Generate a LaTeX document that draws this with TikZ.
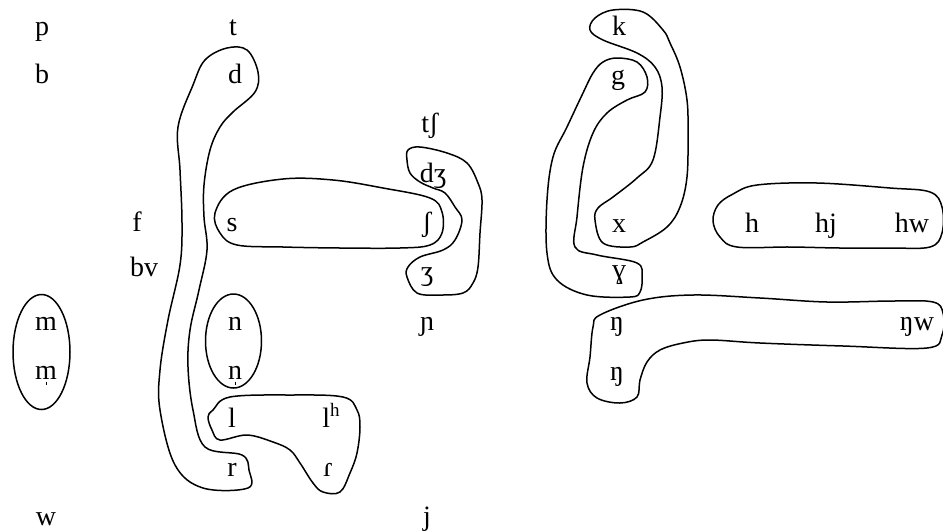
\documentclass[tikz,border=0pt]{standalone}
\usepackage{fontspec}
\setmainfont{Liberation Serif}
\begin{document}
\begin{tikzpicture}[x=1pt,y=-1pt,
  lbl/.style={font=\fontsize{28}{30}\selectfont, anchor=base, inner sep=0pt},
  blob/.style={draw=black, line width=1.5pt, line join=round},
  tick/.style={draw=black, line width=0.9pt}]
\useasboundingbox (0,0) rectangle (943,531);
\clip (0,0) rectangle (943,531);
% labels
\node[lbl] (p) at (42,35) {p};
\node[lbl] (t) at (233,35) {t};
\node[lbl] (b) at (42,83) {b};
\node[lbl] (d) at (235,83) {d};
\node[lbl] (tsh) at (430,132) {tʃ};
\node[lbl] (dzh) at (433,182) {dʒ};
\node[lbl] (f) at (137,231) {f};
\node[lbl] (s) at (232,231) {s};
\node[lbl] (sh) at (427,231) {ʃ};
\node[lbl] (x) at (619,232) {x};
\node[lbl] (h) at (752,232) {h};
\node[lbl] (hj) at (826,232) {hj};
\node[lbl] (hw) at (912,232) {hw};
\node[lbl] (bv) at (144,276) {bv};
\node[lbl] (zh) at (427,280) {ʒ};
\node[lbl] (gam) at (619,278) {ɣ};
\node[lbl] (m) at (46,330) {m};
\node[lbl] (n) at (235,330) {n};
\node[lbl] (nj) at (427,330) {ɲ};
\node[lbl] (ng) at (617,330) {ŋ};
\node[lbl] (ngw) at (917,330) {ŋw};
\node[lbl] (mv) at (46,379) {m};
\node[lbl] (nv) at (235,379) {n};
\node[lbl] (ngv) at (617,380) {ŋ};
\node[lbl] (l) at (232,427) {l};
\node[lbl] (lh) at (331,427) {l{\fontsize{19}{19}\selectfont\raisebox{11pt}{h}}};
\node[lbl] (r) at (232,476) {r};
\node[lbl] (tap) at (328,476) {ɾ};
\node[lbl] (w) at (46,525) {w};
\node[lbl] (j) at (427,525) {j};
\node[lbl] (k) at (619,35) {k};
\node[lbl] (g) at (618,84) {g};
% voiceless marks
\draw[tick] (mv.base) ++(0,2.5) -- ++(0,3.5);
\draw[tick] (nv.base) ++(0,2.5) -- ++(0,3.5);
% groupings
\draw[blob] (41.5,352) ellipse [x radius=28.5, y radius=57.5];
\draw[blob] (233.5,341) ellipse [x radius=28, y radius=47];
% d - r
\draw[blob] plot[smooth cycle, tension=0.6] coordinates {(227,48) (247,50) (258,72) (255,92) (233,112) (220,127) (210,150) (204,185) (204,217) (207,250) (199,290) (190,330) (188,367) (193,410) (205,447) (242,455) (249,470) (248,488) (203,488) (175,465) (160,410) (160,370) (168,320) (180,265) (182,223) (180,170) (178,127) (193,85) (205,60)};
% s - sh
\draw[blob] plot[smooth cycle, tension=0.6] coordinates {(215,213) (233,190) (283,179) (333,180) (383,188) (430,198) (442,212) (442,233) (430,245) (400,248) (340,248) (283,247) (237,245) (220,233)};
% dzh - zh
\draw[blob] plot[smooth cycle, tension=0.6] coordinates {(408,150) (420,147) (447,153) (467,163) (478,183) (482,200) (480,233) (478,267) (473,283) (463,293) (440,295) (417,293) (407,277) (408,267) (420,257) (443,250) (455,240) (462,220) (455,207) (445,193) (433,188) (420,182) (410,173) (407,160)};
% l - lh - tap
\draw[blob] plot[smooth cycle, tension=0.6] coordinates {(230,397) (290,395) (343,397) (357,410) (360,427) (357,453) (350,473) (340,492) (323,492) (313,483) (300,463) (290,450) (273,442) (247,435) (220,440) (212,430) (208,417) (213,410)};
% k - x
\draw[blob] plot[smooth cycle, tension=0.6] coordinates {(595,18) (613,10) (643,12) (663,30) (670,43) (680,67) (687,100) (688,133) (687,177) (680,207) (667,227) (643,242) (630,247) (603,243) (595,220) (598,208) (613,197) (637,178) (653,160) (660,117) (662,87) (655,67) (637,53) (603,40) (590,30)};
% g - gamma
\draw[blob] plot[smooth cycle, tension=0.6] coordinates {(617,58) (637,62) (647,77) (645,92) (627,100) (607,113) (593,133) (583,167) (577,217) (575,247) (597,255) (637,263) (642,277) (640,292) (630,297) (587,295) (557,280) (547,253) (547,200) (553,157) (567,127) (583,93) (593,73) (603,62)};
% ng - ngw
\draw[blob] plot[smooth cycle, tension=0.6] coordinates {(600,315) (643,300) (693,295) (760,298) (827,302) (893,301) (933,302) (943,313) (942,335) (927,348) (843,346) (760,343) (710,340) (683,343) (660,350) (647,362) (640,380) (637,397) (620,403) (597,398) (587,383) (590,357) (593,327)};
% h - hw
\draw[blob] plot[smooth cycle, tension=0.6] coordinates {(733,194) (757,185) (817,183) (890,188) (930,192) (942,207) (942,233) (930,247) (890,248) (840,248) (790,247) (737,247) (720,237) (713,221) (718,205)};
\end{tikzpicture}
\end{document}
